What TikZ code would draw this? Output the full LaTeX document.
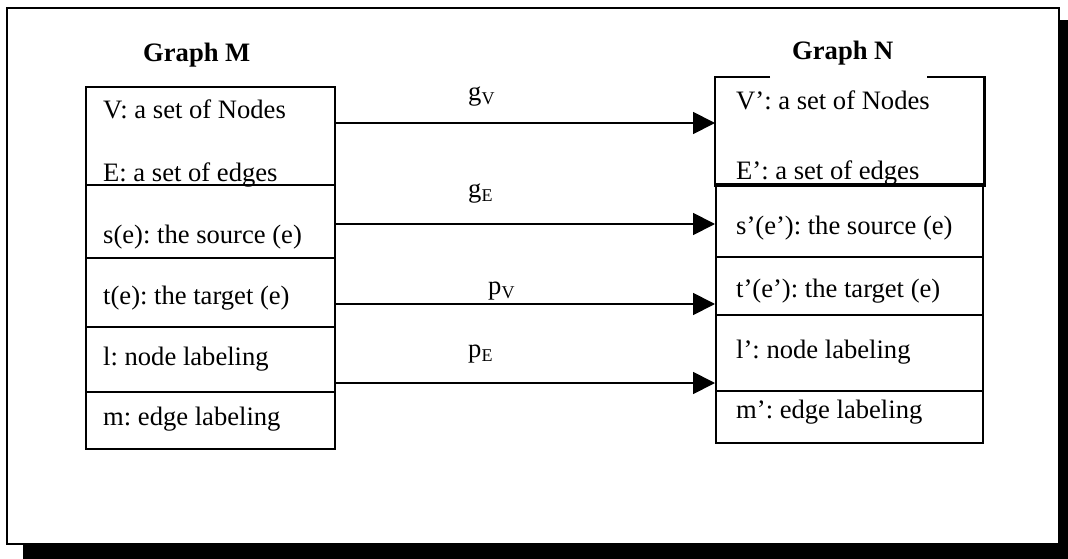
\documentclass[tikz,border=0pt]{standalone}
\usepackage{fontspec}
\setmainfont{Liberation Serif}
\usetikzlibrary{arrows.meta, calc}
\frenchspacing
\newcommand\entryfont{\fontsize{26.6}{32}\selectfont}
\newcommand\mapsub[1]{\raisebox{-4pt}{\fontsize{18}{20}\selectfont #1}}
\tikzset{
  frame/.style={draw=black, line width=1.4pt, fill=white},
  shadowband/.style={fill=black},
  cell/.style={rectangle, draw=black, line width=2.4pt, anchor=north west, inner sep=0pt},
  entry/.style={anchor=base west, inner sep=0pt, font=\entryfont},
  title/.style={anchor=base west, inner sep=0pt, font=\entryfont\bfseries},
  map/.style={-{Triangle[length=22pt, width=22pt]}, line width=1.8pt},
  maplabel/.style={anchor=base west, inner sep=0pt, font=\entryfont},
}

\begin{document}
\begin{tikzpicture}[x=1pt, y=-1pt]
\useasboundingbox (0,0) rectangle (1068,559);

% Frame with drop shadow
\fill[shadowband] (23,20) rectangle (1068,559);
\draw[frame] (7,8) rectangle (1059,544);

% Graph M
\node[title] (titleM) at (143,62) {Graph M};
\foreach \n/\top/\bot in {lV/86/184, ls/184/257, lt/257/326, ll/326/391, lm/391/448} {
  \node[cell, minimum width=249pt, minimum height={(\bot-\top)*1pt}] (\n) at (85,\top) {};
}
\foreach \n/\y/\t in {tV/119/{V: a set of Nodes}, tE/181/{E: a set of edges},
                      ts/243/{s(e): the source (e)}, tt/304/{t(e): the target (e)},
                      tl/365/{l: node labeling}, tm/425/{m: edge labeling}} {
  \node[entry] (\n) at (103,\y) {\t};
}

% Graph N
\node[title] (titleN) at (792,60) {Graph N};
\node[cell, draw=none, minimum width=267pt, minimum height=106pt] (rV) at (715,77) {};
\draw[line width=2.4pt] ($(rV.north west)+(55,0)$) -- (rV.north west) -- (rV.south west)
  -- (rV.south east) -- (rV.north east) -- ++(-57,0);
\foreach \n/\top/\bot in {rs/183/256, rt/256/314, rl/314/390, rm/390/442} {
  \node[cell, minimum width=267pt, minimum height={(\bot-\top)*1pt}] (\n) at (715,\top) {};
}
\foreach \n/\y/\t in {uV/110/{V’: a set of Nodes}, uE/179/{E’: a set of edges},
                      us/234/{s’(e’): the source (e)}, ut/297/{t’(e’): the target (e)},
                      ul/358/{l’: node labeling}, um/418/{m’: edge labeling}} {
  \node[entry] (\n) at (736,\y) {\t};
}

% Mappings
\coordinate (gvs) at (334,123);
\coordinate (ges) at (334,224);
\coordinate (pvs) at (334,304);
\coordinate (pes) at (334,383);
\draw[map] (gvs) -- (gvs -| rV.west);
\draw[map] (ges) -- (ges -| rs.west);
\draw[map] (pvs) -- (pvs -| rt.west);
\draw[map] (pes) -- (pes -| rl.west);
\node[maplabel] (gV) at (468,101) {g\mapsub{V}};
\node[maplabel] (gE) at (468,197) {g\mapsub{E}};
\node[maplabel] (pV) at (488,294) {p\mapsub{V}};
\node[maplabel] (pE) at (468,357) {p\mapsub{E}};

\end{tikzpicture}
\end{document}
